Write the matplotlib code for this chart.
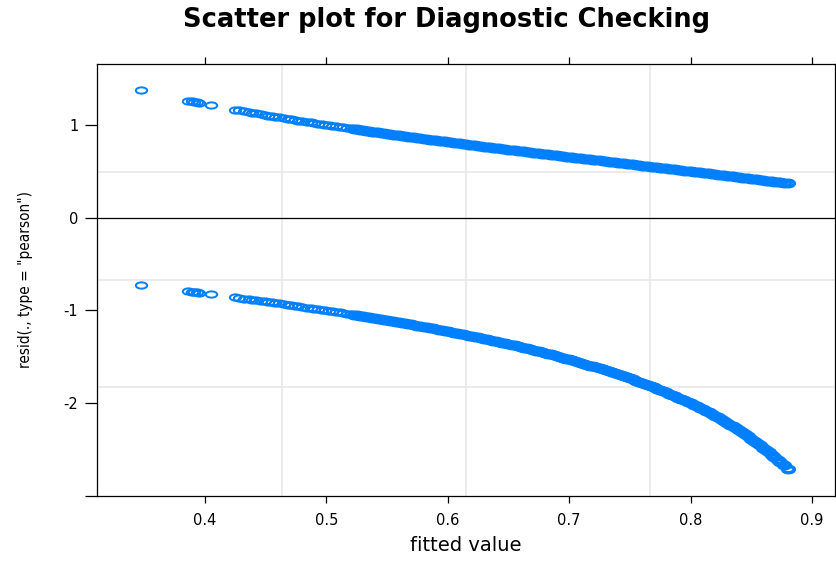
import matplotlib
matplotlib.use("Agg")
import matplotlib.pyplot as plt
from matplotlib.path import Path
from matplotlib.markers import MarkerStyle
from matplotlib.transforms import Affine2D

# fitted probabilities (x) and Pearson residuals for the y=1 band (upper)
# and y=0 band (lower)
fitted = [
    0.347, 0.386, 0.389, 0.391, 0.393, 0.395, 0.405, 0.425, 0.428, 0.432,
    0.436, 0.439, 0.442, 0.446, 0.449, 0.452, 0.455, 0.458, 0.461, 0.465,
    0.468, 0.471, 0.474, 0.477, 0.480, 0.484, 0.487, 0.490, 0.493, 0.496,
    0.499, 0.502, 0.505, 0.508, 0.511, 0.514, 0.517, 0.520,
    0.5225, 0.525, 0.5275, 0.530, 0.5325, 0.535, 0.5375, 0.540, 0.5425, 0.545,
    0.5475, 0.550, 0.5525, 0.555, 0.5575, 0.560, 0.5625, 0.565, 0.5675, 0.570,
    0.5725, 0.575, 0.5775, 0.580, 0.5825, 0.585, 0.5875, 0.590, 0.5925, 0.595,
    0.5975, 0.600, 0.6025, 0.605, 0.6075, 0.610, 0.6125, 0.615, 0.6175, 0.620,
    0.6225, 0.625, 0.6275, 0.630, 0.6325, 0.635, 0.6375, 0.640, 0.6425, 0.645,
    0.6475, 0.650, 0.6525, 0.655, 0.6575, 0.660, 0.6625, 0.665, 0.6675, 0.670,
    0.6725, 0.675, 0.6775, 0.680, 0.6825, 0.685, 0.6875, 0.690, 0.6925, 0.695,
    0.6975, 0.700, 0.7025, 0.705, 0.7075, 0.710, 0.7125, 0.715, 0.7175, 0.720,
    0.7225, 0.725, 0.7275, 0.730, 0.7325, 0.735, 0.7375, 0.740, 0.7425, 0.745,
    0.7475, 0.750, 0.7525, 0.755, 0.7575, 0.760, 0.7625, 0.765, 0.7675, 0.770,
    0.7725, 0.775, 0.7775, 0.780, 0.7825, 0.785, 0.7875, 0.790, 0.7925, 0.795,
    0.7975, 0.800, 0.8025, 0.805, 0.8075, 0.810, 0.8125, 0.815, 0.8175, 0.820,
    0.8225, 0.825, 0.8275, 0.830, 0.8325, 0.835, 0.8375, 0.840, 0.8425, 0.845,
    0.8475, 0.850, 0.8525, 0.855, 0.8575, 0.860,
    0.8625, 0.865, 0.867, 0.869, 0.872, 0.874, 0.877, 0.880,
]

resid_upper = [
    1.372, 1.261, 1.253, 1.248, 1.243, 1.238, 1.212, 1.163, 1.156, 1.147,
    1.137, 1.130, 1.124, 1.115, 1.108, 1.101, 1.094, 1.088, 1.081, 1.073,
    1.066, 1.060, 1.053, 1.047, 1.041, 1.033, 1.026, 1.020, 1.014, 1.008,
    1.002, 0.996, 0.990, 0.984, 0.978, 0.972, 0.967, 0.961,
    0.956, 0.951, 0.947, 0.942, 0.937, 0.932, 0.928, 0.923, 0.918, 0.914,
    0.909, 0.905, 0.900, 0.896, 0.891, 0.886, 0.882, 0.878, 0.873, 0.869,
    0.864, 0.860, 0.855, 0.851, 0.847, 0.842, 0.838, 0.834, 0.829, 0.825,
    0.821, 0.817, 0.812, 0.808, 0.804, 0.800, 0.795, 0.791, 0.787, 0.783,
    0.779, 0.775, 0.771, 0.766, 0.762, 0.758, 0.754, 0.750, 0.746, 0.742,
    0.738, 0.734, 0.730, 0.726, 0.722, 0.718, 0.714, 0.710, 0.706, 0.702,
    0.698, 0.694, 0.690, 0.686, 0.682, 0.678, 0.674, 0.670, 0.666, 0.663,
    0.659, 0.655, 0.651, 0.647, 0.643, 0.639, 0.635, 0.631, 0.628, 0.624,
    0.620, 0.616, 0.612, 0.608, 0.604, 0.601, 0.597, 0.593, 0.589, 0.585,
    0.581, 0.577, 0.574, 0.570, 0.566, 0.562, 0.558, 0.554, 0.550, 0.547,
    0.543, 0.539, 0.535, 0.531, 0.527, 0.523, 0.520, 0.516, 0.512, 0.508,
    0.504, 0.500, 0.496, 0.492, 0.488, 0.484, 0.480, 0.476, 0.473, 0.469,
    0.465, 0.461, 0.457, 0.453, 0.449, 0.445, 0.441, 0.436, 0.432, 0.428,
    0.424, 0.420, 0.416, 0.412, 0.408, 0.404,
    0.399, 0.395, 0.392, 0.388, 0.383, 0.380, 0.375, 0.369,
]

resid_lower = [
    -0.729, -0.793, -0.798, -0.801, -0.805, -0.808, -0.825, -0.860, -0.865, -0.872,
    -0.879, -0.885, -0.890, -0.897, -0.903, -0.908, -0.914, -0.919, -0.925, -0.932,
    -0.938, -0.944, -0.949, -0.955, -0.961, -0.969, -0.974, -0.980, -0.986, -0.992,
    -0.998, -1.004, -1.010, -1.016, -1.022, -1.028, -1.035, -1.041,
    -1.046, -1.051, -1.057, -1.062, -1.067, -1.073, -1.078, -1.084, -1.089, -1.095,
    -1.100, -1.106, -1.111, -1.117, -1.123, -1.128, -1.134, -1.140, -1.146, -1.151,
    -1.157, -1.163, -1.169, -1.175, -1.181, -1.187, -1.194, -1.200, -1.206, -1.212,
    -1.218, -1.225, -1.231, -1.238, -1.244, -1.251, -1.257, -1.264, -1.271, -1.277,
    -1.284, -1.291, -1.298, -1.305, -1.312, -1.319, -1.326, -1.333, -1.341, -1.348,
    -1.355, -1.363, -1.370, -1.378, -1.386, -1.393, -1.401, -1.409, -1.417, -1.425,
    -1.433, -1.441, -1.450, -1.458, -1.466, -1.475, -1.483, -1.492, -1.501, -1.510,
    -1.519, -1.528, -1.537, -1.546, -1.555, -1.565, -1.574, -1.584, -1.594, -1.604,
    -1.614, -1.624, -1.634, -1.644, -1.655, -1.666, -1.676, -1.687, -1.698, -1.710,
    -1.721, -1.732, -1.744, -1.756, -1.768, -1.780, -1.792, -1.805, -1.817, -1.830,
    -1.843, -1.856, -1.870, -1.883, -1.897, -1.911, -1.925, -1.940, -1.955, -1.970,
    -1.985, -2.000, -2.016, -2.032, -2.049, -2.065, -2.082, -2.100, -2.117, -2.134,
    -2.153, -2.172, -2.191, -2.210, -2.230, -2.250, -2.271, -2.291, -2.314, -2.336,
    -2.358, -2.381, -2.405, -2.430, -2.454, -2.479,
    -2.504, -2.531, -2.553, -2.575, -2.610, -2.634, -2.670, -2.708,
]

xticks = [0.4, 0.5, 0.6, 0.7, 0.8, 0.9]
xticklabels = ["0.4", "0.5", "0.6", "0.7", "0.8", "0.9"]
yticks = [1, 0, -1, -2, -3]
yticklabels = ["1", "0", "-1", "-2", ""]

blue = "#0080ff"
xlim = (0.311, 0.919)
ylim = (-2.99, 1.656)

# lattice circles come out as flattened ellipses in the reference
ellipse = Path.unit_circle().transformed(Affine2D().scale(1.0, 0.55))
marker = MarkerStyle(ellipse)

fig = plt.figure(figsize=(8.37, 5.61), dpi=100)
ax = fig.add_axes([0.1159, 0.1159, 0.8817, 0.7700])
ax.set_xlim(*xlim)
ax.set_ylim(*ylim)

# reference grid: three light lines splitting each axis into quarters
for k in (1, 2, 3):
    ax.axvline(xlim[0] + k * (xlim[1] - xlim[0]) / 4, color="#e6e6e6", lw=1.1, zorder=0)
    ax.axhline(ylim[0] + k * (ylim[1] - ylim[0]) / 4, color="#e6e6e6", lw=1.1, zorder=0)
ax.axhline(0, color="black", lw=0.9, zorder=1)

# sparse points keep thin rings, the dense run merges into a solid band
n_sparse = 38
for r in (resid_upper, resid_lower):
    ax.plot(fitted[:n_sparse], r[:n_sparse], linestyle="none", marker=marker,
            markersize=8.2, markerfacecolor="none", markeredgecolor=blue,
            markeredgewidth=1.4, zorder=2)
    ax.plot(fitted[n_sparse:], r[n_sparse:], linestyle="none", marker=marker,
            markersize=8.4, markerfacecolor="none", markeredgecolor=blue,
            markeredgewidth=2.5, zorder=2)

for s in ax.spines.values():
    s.set_linewidth(0.9)

ax.set_xticks(xticks)
ax.set_xticklabels(xticklabels)
ax.set_yticks(yticks)
ax.set_yticklabels(yticklabels)
ax.tick_params(axis="x", direction="out", length=5, width=0.9, pad=7,
               labelsize=10.5, top=True, labeltop=False)
ax.tick_params(axis="y", direction="out", length=8.5, width=0.9, pad=5,
               labelsize=10.5, right=True, labelright=False)

ax.set_xlabel("fitted value", fontsize=14, labelpad=6)
ax.set_ylabel('resid(., type = "pearson")', fontsize=11,
              family="DejaVu Sans", fontstretch="condensed")
ax.yaxis.set_label_coords(-0.087, 0.50)
fig.suptitle("Scatter plot for Diagnostic Checking", fontsize=18.5,
             fontweight="bold", x=0.533, y=0.988)

fig.savefig("out.png", dpi=100)
